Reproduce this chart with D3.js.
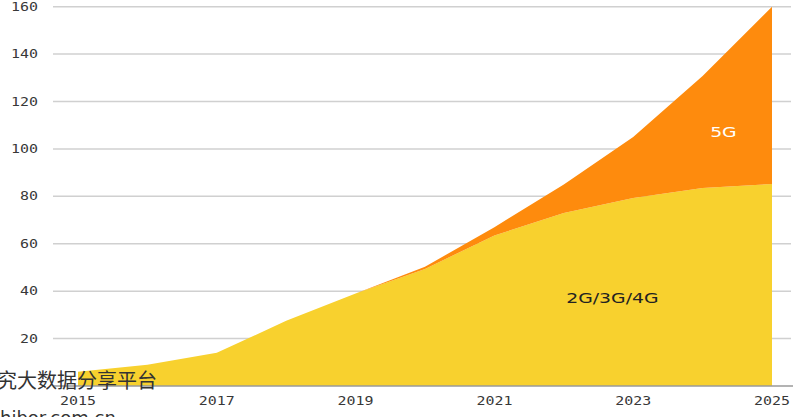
<!DOCTYPE html>
<html>
<head>
<meta charset="utf-8">
<script src="https://cdn.jsdelivr.net/npm/d3@7"></script>
<style>
html,body{margin:0;padding:0;background:#fff;overflow:hidden;}
svg{display:block;}
</style>
</head>
<body>
<svg id="chart" width="800" height="417"></svg>
<script>
const years = [2015,2016,2017,2018,2019,2020,2021,2022,2023,2024,2025];
const legacy = [6,9,14,27.5,39,49.4,63.5,73,79.3,83.5,85.2];
const fiveG = [0,0,0,0,0,0.9,3.5,12,25.7,47.3,74.8];
const yTicks = [20,40,60,80,100,120,140,160];
const xTicks = [2015,2017,2019,2021,2023,2025];
const seriesNames = ["2G/3G/4G","5G"];
const colors = ["#F8D12E","#FE8B0D"];

const svg = d3.select("#chart");
const x = d3.scaleLinear().domain([2015,2025]).range([78,772]);
const y = d3.scaleLinear().domain([0,160]).range([386,6.7]);
const SX = 1.3;

// gridlines
svg.append("g").selectAll("line").data(yTicks).join("line")
  .attr("x1",53).attr("x2",791)
  .attr("y1",d=>y(d)).attr("y2",d=>y(d))
  .attr("stroke","#d0d0d0").attr("stroke-width",1.5);

// y labels
svg.append("g").selectAll("text").data(yTicks).join("text")
  .attr("transform",d=>`translate(38,${y(d)+4}) scale(${SX},1)`)
  .attr("text-anchor","end")
  .attr("font-family","DejaVu Sans Mono")
  .attr("font-size",11.5)
  .attr("fill","#383838")
  .text(d=>d);

// stacked data
const rows = years.map((yr,i)=>({year:yr, a:legacy[i], b:fiveG[i]}));
const stack = d3.stack().keys(["a","b"]);
const layers = stack(rows);
const area = d3.area()
  .x(d=>x(d.data.year))
  .y0(d=>y(d[0]))
  .y1(d=>y(d[1]));
svg.append("g").selectAll("path").data(layers).join("path")
  .attr("d",area)
  .attr("fill",(d,i)=>colors[i]);

// baseline
svg.append("line").attr("x1",53).attr("x2",793)
  .attr("y1",y(0)).attr("y2",y(0))
  .attr("stroke","#9a9a9a").attr("stroke-width",1.5);

// x labels
svg.append("g").selectAll("text").data(xTicks).join("text")
  .attr("transform",d=>`translate(${x(d)},405) scale(${SX},1)`)
  .attr("text-anchor","middle")
  .attr("font-family","DejaVu Sans Mono")
  .attr("font-size",11.5)
  .attr("fill","#383838")
  .text(d=>d);

// series labels
svg.append("text")
  .attr("transform",`translate(${x(2024.3)},137) scale(${SX},1)`)
  .attr("text-anchor","middle")
  .attr("font-family","DejaVu Sans")
  .attr("font-size",14.5)
  .attr("fill","#fff")
  .text(seriesNames[1]);
svg.append("text")
  .attr("transform",`translate(${x(2022.7)},303) scale(${SX},1)`)
  .attr("text-anchor","middle")
  .attr("font-family","DejaVu Sans")
  .attr("font-size",14.5)
  .attr("fill","#222")
  .text(seriesNames[0]);

// watermark
svg.append("text").attr("x",-3).attr("y",388)
  .attr("font-family","Noto Sans CJK SC")
  .attr("font-size",20)
  .attr("fill","#333")
  .text("究大数据分享平台");
svg.append("text").attr("x",0).attr("y",424)
  .attr("font-family","DejaVu Sans")
  .attr("font-size",18)
  .attr("fill","#333")
  .text("hibor.com.cn");
</script>
</body>
</html>
